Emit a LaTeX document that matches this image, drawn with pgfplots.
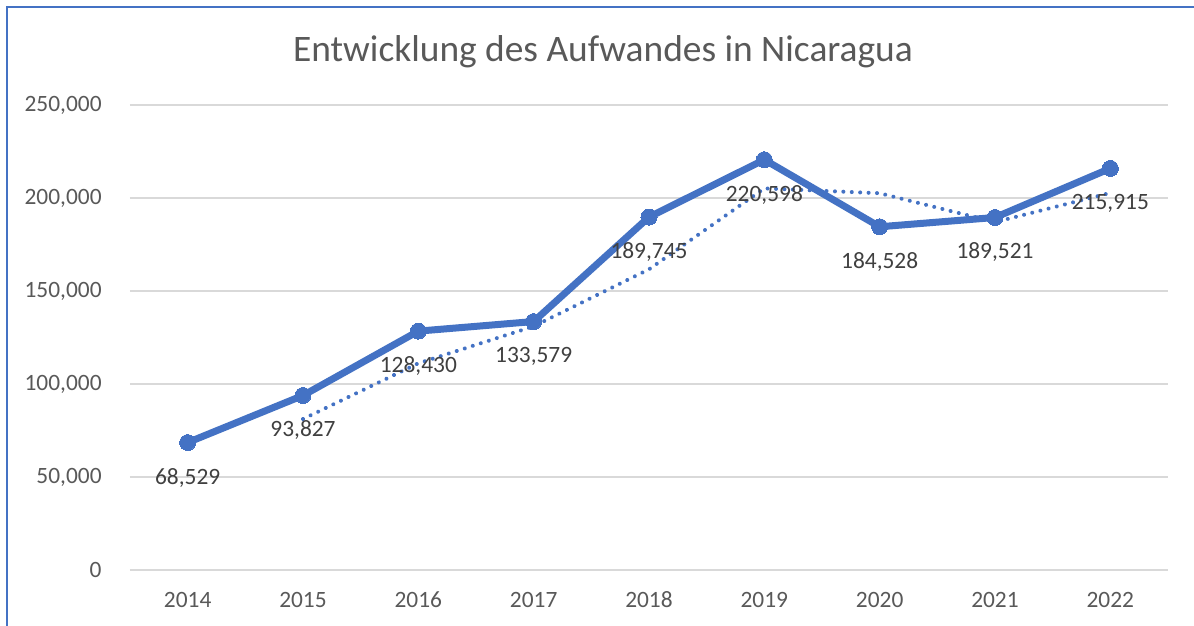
\documentclass[border=0pt]{standalone}
\usepackage{fontspec}
\setmainfont{Carlito}
\usepackage{pgfplots}
\pgfplotsset{compat=1.18}
\usepackage{pgfplotstable}
\definecolor{serie}{HTML}{4472C4}
\definecolor{gridc}{HTML}{D9D9D9}
\definecolor{ticktxt}{HTML}{595959}
\definecolor{labtxt}{HTML}{404040}
\pgfplotstableread{
year value label
2014 68529 68,529
2015 93827 93,827
2016 128430 128,430
2017 133579 133,579
2018 189745 189,745
2019 220598 220,598
2020 184528 184,528
2021 189521 189,521
2022 215915 215,915
}\datatable
\pgfplotstableread{
year value
2015 81178
2016 111128.5
2017 131004.5
2018 161662
2019 205171.5
2020 202563
2021 187024.5
2022 202718
}\trendtable
\begin{document}
\begin{tikzpicture}[x=1pt,y=1pt]
\fill[white] (0,0) rectangle (597,313);
\useasboundingbox (0,0) rectangle (597,313);
\begin{axis}[
  at={(65pt,28pt)}, anchor=south west,
  scale only axis, width=519pt, height=232.5pt,
  xmin=2013.5, xmax=2022.5, ymin=0, ymax=250000,
  xtick={2014,2015,...,2022}, ytick={0,50000,...,250000},
  axis line style={draw=none}, major tick length=0pt,
  ymajorgrids, grid style={gridc, line width=0.75pt},
  scaled y ticks=false,
  y tick label style={/pgf/number format/fixed, /pgf/number format/1000 sep={,}, /pgf/number format/assume math mode=true,
    inner sep=0pt, anchor=east, xshift=-14pt, font=\fontsize{11.7}{14}\selectfont, text=ticktxt},
  x tick label style={/pgf/number format/1000 sep={}, /pgf/number format/assume math mode=true,
    inner sep=0pt, anchor=center, yshift=-15pt, font=\fontsize{11.7}{14}\selectfont, text=ticktxt},
  clip=false,
]
\addplot[serie, line width=3.5pt, mark=*, mark size=4pt, mark options={solid, fill=serie, draw=serie, line width=0pt}]
  table[x=year, y=value] {\datatable};
\addplot[serie, line width=2pt, line cap=round, dash pattern=on 0.01pt off 4.2pt]
  table[x=year, y=value] {\trendtable};
\addplot[draw=none, mark=none, point meta=explicit symbolic,
  nodes near coords,
  nodes near coords style={anchor=center, yshift=-17.5pt, inner sep=0pt, font=\fontsize{11.7}{14}\selectfont, text=labtxt}]
  table[x=year, y=value, meta=label] {\datatable};
\end{axis}
\node[font=\fontsize{18.7}{22}\selectfont, text=ticktxt] at (301.5,287) {Entwicklung des Aufwandes in Nicaragua};
\draw[serie, line width=1pt] (3.5,0) -- (3.5,309.5) -- (597,309.5);
\end{tikzpicture}
\end{document}
